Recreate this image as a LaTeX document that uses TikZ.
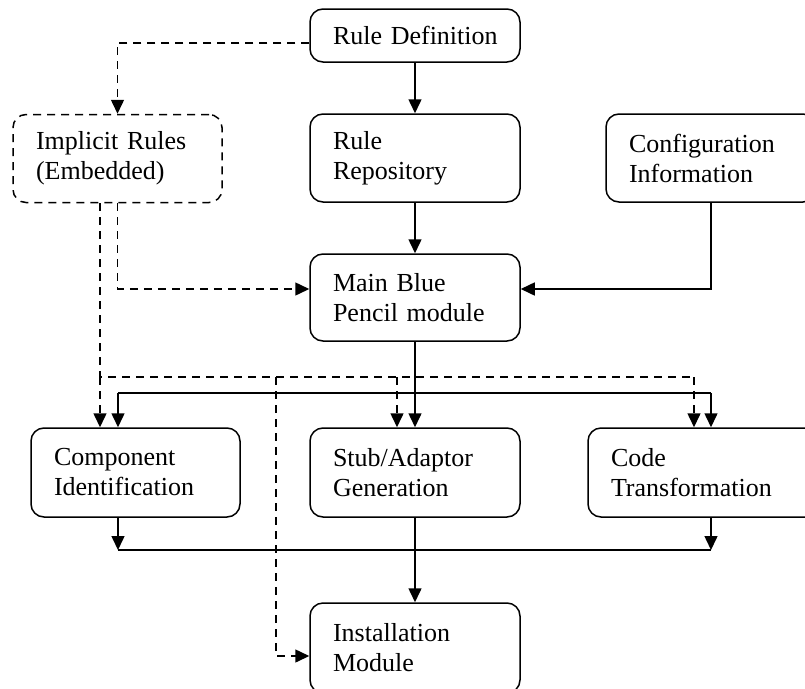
\documentclass[tikz,border=0pt]{standalone}
\usepackage{fontspec}
\setmainfont{Liberation Serif}
\usetikzlibrary{arrows.meta}

\tikzstyle{block}=[draw, rectangle, rounded corners=13pt, line width=1.5pt, inner xsep=23pt, inner ysep=0pt, text width=164pt, align=left, minimum height=88pt, font=\fontsize{26}{30}\selectfont]
\tikzstyle{implicitblock}=[block, dash pattern=on 8pt off 6pt]
\tikzstyle{line}=[line width=1.5pt]
\tikzstyle{link}=[line, -{Triangle[length=14pt,width=13pt]}]
\tikzstyle{dline}=[line, dash pattern=on 8pt off 6pt]
\tikzstyle{dlink}=[dline, -{Triangle[length=14pt,width=13pt]}]

\begin{document}
\begin{tikzpicture}[x=1pt, y=-1pt]

\useasboundingbox (0, 0) rectangle (805, 688);

\node [block, minimum height=53pt] (ruledef) at (415, 35.5) {\mbox{Rule Definition}};
\node [implicitblock, text width=163pt] (implicit) at (117.5, 158.5) {Implicit Rules\\(Embedded)};
\node [block] (rulerep) at (415, 158) {Rule\\Repository};
\node [block] (config) at (711, 158) {Configuration\\Information};
\node [block, minimum height=87pt] (main) at (415, 297.5) {Main Blue\\Pencil module};
\node [block, minimum height=89pt, text width=163pt] (comp) at (135.5, 472.5) {Component\\Identification};
\node [block, minimum height=89pt] (stub) at (415, 472.5) {Stub/Adaptor\\Generation};
\node [block, minimum height=89pt, text width=200pt] (code) at (711, 472.5) {Code\\Transformation};
\node [block, minimum height=90pt] (install) at (415, 648) {Installation\\Module};

\coordinate (defout) at (0, 43);
\coordinate (mainin) at (0, 289);
\coordinate (dL) at (100, 377);
\coordinate (dI) at (276, 377);
\coordinate (dS) at (397, 377);
\coordinate (dR) at (694, 377);
\coordinate (sL) at (118, 393);
\coordinate (sR) at (711, 393);
\coordinate (oL) at (118, 550);
\coordinate (oR) at (711, 550);
\coordinate (instin) at (0, 656);

\draw [link] (ruledef) to (rulerep);
\draw [dlink] (ruledef.west |- defout) -| (implicit.north);
\draw [link] (rulerep) to (main);
\draw [link] (config.south) |- (main.east |- mainin);
\draw [dlink] (implicit.south) |- (main.west |- mainin);

\draw [dline] (implicit.south -| dL) to (dL) to (dR);
\draw [dlink] (dL) to (dL |- comp.north);
\draw [dlink] (dS) to (dS |- stub.north);
\draw [dlink] (dR) to (dR |- code.north);
\draw [dlink] (dI) |- (install.west |- instin);

\draw [link] (main) to (stub);
\draw [line] (sL) to (sR);
\draw [link] (sL) to (sL |- comp.north);
\draw [link] (sR) to (sR |- code.north);

\draw [link] (comp.south -| oL) to (oL);
\draw [link] (code.south -| oR) to (oR);
\draw [line] (oL) to (oR);
\draw [link] (stub) to (install);

\end{tikzpicture}
\end{document}
